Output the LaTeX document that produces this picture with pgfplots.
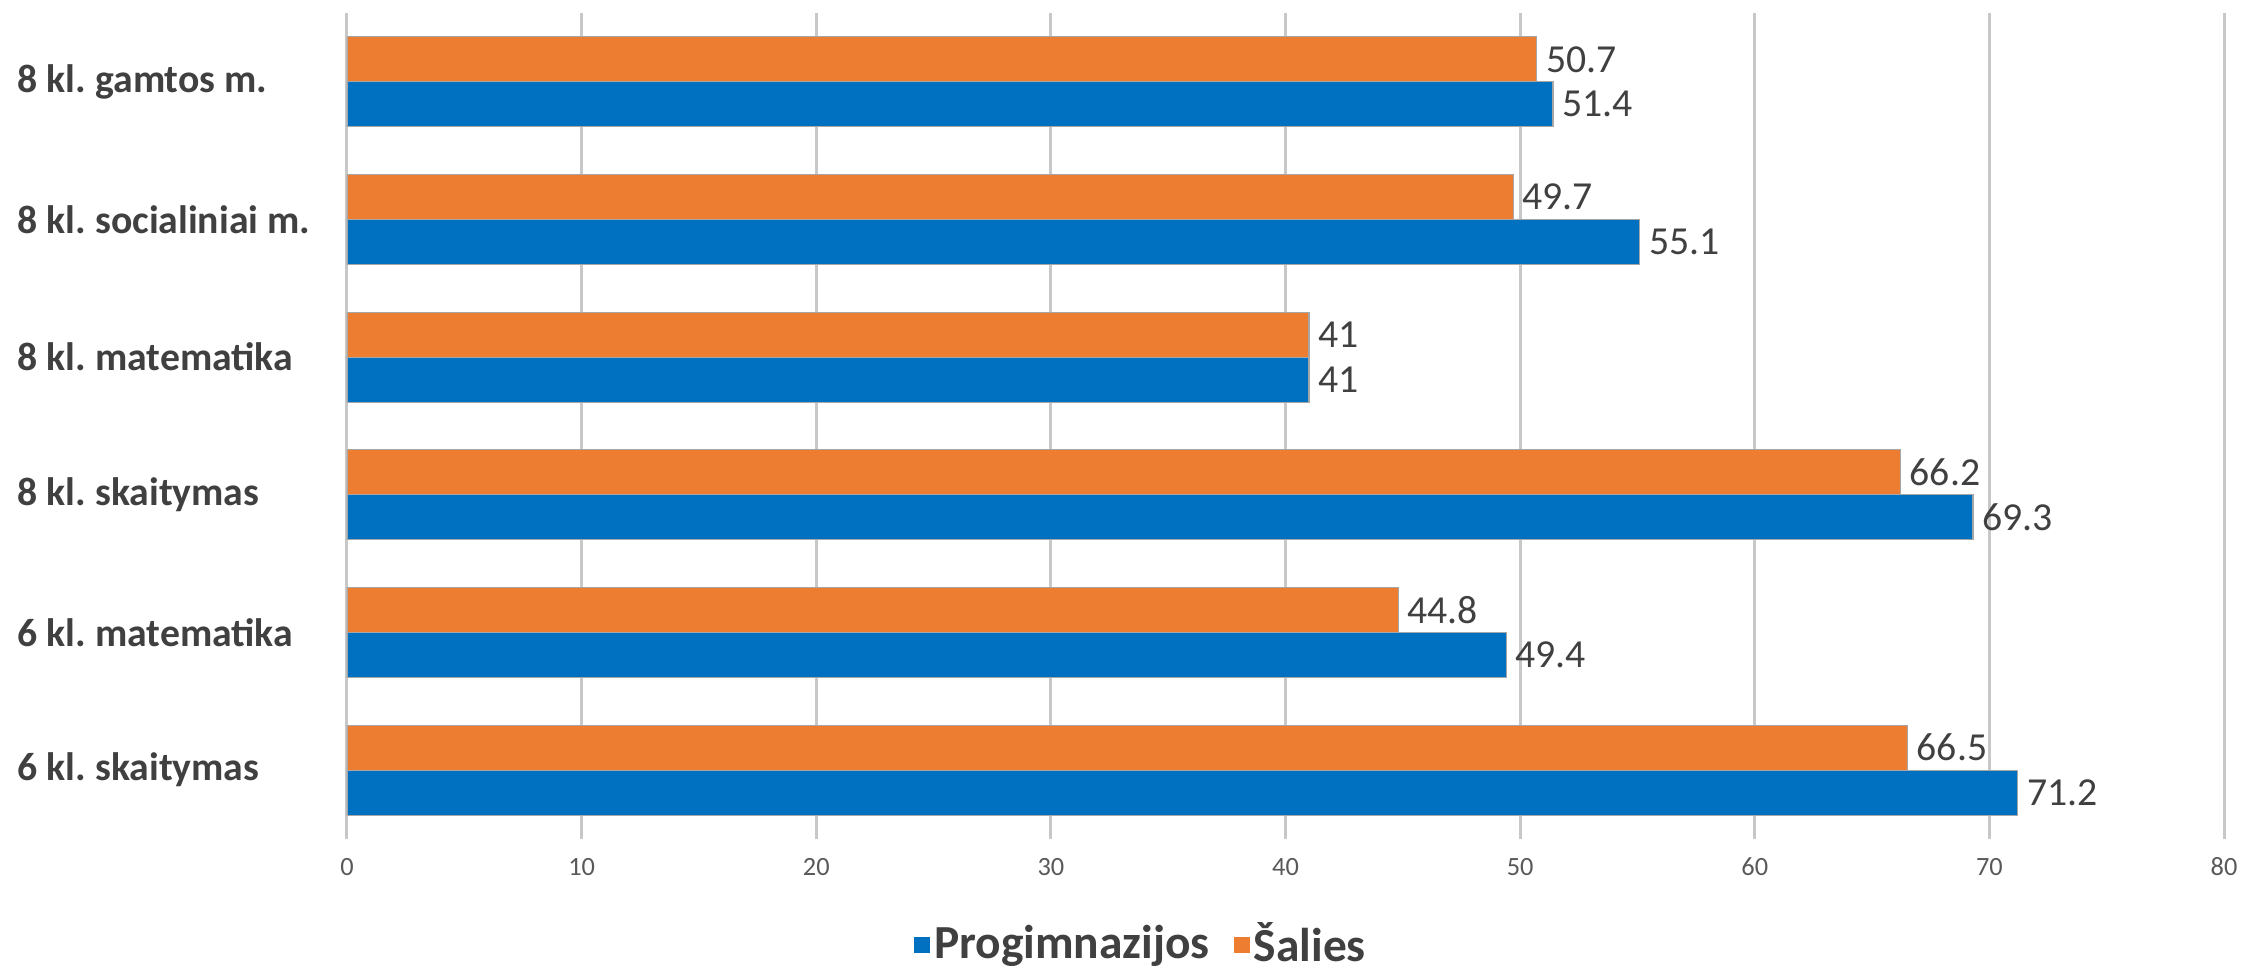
\documentclass[border=0pt]{standalone}
\usepackage{pgfplots}
\pgfplotsset{compat=1.18}
\usepackage{fontspec}
\setmainfont{Carlito}
\definecolor{cblue}{HTML}{0070C0}
\definecolor{corange}{HTML}{ED7D31}
\definecolor{txt}{HTML}{404040}
\definecolor{tickc}{HTML}{595959}
\definecolor{gridc}{HTML}{C8C8C8}
\begin{document}
\frenchspacing
\begin{tikzpicture}
\begin{axis}[name=ax, scale only axis, width=187.7mm, height=82.6mm,
  xmin=0, xmax=80, ymin=-0.5, ymax=5.5,
  xtick={0,10,...,80}, ytick={0,...,5},
  yticklabels={6 kl.\ skaitymas, 6 kl.\ matematika, 8 kl.\ skaitymas, 8 kl.\ matematika, 8 kl.\ socialiniai m., 8 kl.\ gamtos m.},
  axis line style={draw=none}, major tick length=0pt,
  xmajorgrids, grid style={gridc, line width=0.3mm},
  xbar, bar width=4.5mm,
  /pgf/number format/assume math mode=true,
  xticklabel style={font=\fontsize{7.5}{9}\selectfont, text=tickc, anchor=center, yshift=-2.8mm},
  yticklabel style={font=\bfseries\fontsize{11.3}{13}\selectfont, text=txt, anchor=west, inner sep=0pt, xshift=-33mm},
  point meta=x,
  nodes near coords,
  nodes near coords style={font=\fontsize{11.3}{13}\selectfont, text=txt, anchor=west, inner sep=0.9mm},
  legend style={at={(0.4235,0)}, anchor=center, yshift=-10.6mm, draw=none, fill=none,
    inner sep=0pt, outer sep=0pt,
    font=\bfseries\fontsize{13.5}{15}\selectfont, text=txt,
    nodes={inner sep=0.4mm},
    /tikz/every even column/.append style={column sep=2mm}},
  legend columns=2,
  legend cell align=left,
  legend image code/.code={\path[#1, draw=none] (0mm,-0.8mm) rectangle (1.6mm,0.8mm);},
]
\addplot[fill=cblue, draw=black!35, line width=0.3pt, bar shift=-2.25mm] coordinates {
  (71.2,0) (49.4,1) (69.3,2) (41,3) (55.1,4) (51.4,5)};
\addlegendentry{Progimnazijos}
\addplot[fill=corange, draw=black!35, line width=0.3pt, bar shift=2.25mm] coordinates {
  (66.5,0) (44.8,1) (66.2,2) (41,3) (49.7,4) (50.7,5)};
\addlegendentry{Šalies}
\end{axis}
\pgfresetboundingbox
\path[use as bounding box] ([xshift=-34.7mm,yshift=-13.3mm]ax.south west) rectangle ([xshift=2.3mm,yshift=1.3mm]ax.north east);
\end{tikzpicture}
\end{document}
